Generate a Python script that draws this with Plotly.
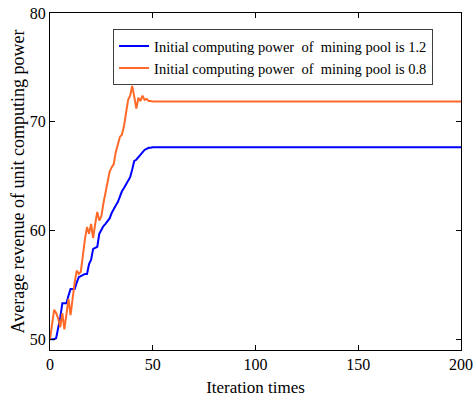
import plotly.graph_objects as go

# Iteration index (0..50 recorded each step, then the converged value held to 200)
iterations = list(range(0, 51)) + [200]

revenue_pool_12 = [
    50.0, 50.0, 50.0, 50.1, 51.0, 52.0, 53.3, 53.3, 53.3, 54.0,
    54.6, 54.6, 54.6, 55.2, 55.7, 55.8, 55.9, 56.0, 56.0, 56.9,
    57.3, 58.3, 58.4, 58.5, 59.7, 60.1, 60.4, 60.6, 60.9, 61.1,
    61.6, 62.0, 62.3, 62.6, 63.1, 63.6, 63.9, 64.2, 64.5, 64.9,
    65.6, 66.4, 66.5, 66.7, 66.9, 67.2, 67.4, 67.5, 67.6, 67.6,
    67.65, 67.65,
]

revenue_pool_08 = [
    50.0, 51.4, 52.7, 52.4, 51.9, 51.1, 52.4, 50.9, 52.6, 53.7,
    52.2, 54.0, 55.2, 56.3, 56.0, 56.2, 57.8, 59.2, 60.3, 59.7,
    60.6, 59.3, 60.6, 61.7, 60.9, 61.3, 62.5, 63.4, 64.5, 65.4,
    65.8, 66.1, 67.2, 67.8, 68.6, 68.8, 69.6, 70.8, 72.0, 72.4,
    73.3, 72.3, 71.2, 72.2, 71.9, 72.4, 72.0, 72.1, 71.9, 71.9,
    71.85, 71.85,
]

series_names = [
    "Initial computing power\u00a0 of\u00a0 mining pool is 1.2",
    "Initial computing power\u00a0 of\u00a0 mining pool is 0.8",
]

x_title = "Iteration times"
y_title = "Average revenue of unit computing power"

font_family = "Liberation Serif, Times New Roman, serif"

fig = go.Figure()
fig.add_trace(go.Scatter(x=iterations, y=revenue_pool_12, mode="lines",
                         name=series_names[0],
                         line=dict(color="#0000ff", width=2)))
fig.add_trace(go.Scatter(x=iterations, y=revenue_pool_08, mode="lines",
                         name=series_names[1],
                         line=dict(color="#ff6a28", width=2)))

axis_common = dict(
    showline=True, linecolor="black", linewidth=1, mirror="ticks",
    ticks="inside", ticklen=5, tickcolor="black", showgrid=False,
    zeroline=False, automargin=False,
    tickfont=dict(family=font_family, size=16, color="black"),
)

fig.update_layout(
    width=473, height=397,
    margin=dict(l=50, r=12, t=13, b=47),
    paper_bgcolor="white", plot_bgcolor="white",
    font=dict(family=font_family, color="black"),
    xaxis=dict(range=[0, 200], tickvals=[0, 50, 100, 150, 200],
               title=dict(text=x_title, font=dict(size=17)),
               **axis_common),
    yaxis=dict(range=[49, 80], tickvals=[50, 60, 70, 80], **axis_common),
    legend=dict(x=0.932, y=0.952, xanchor="right", yanchor="top",
                bgcolor="white", bordercolor="#404040", borderwidth=1,
                font=dict(family=font_family, size=14.5, color="black"),
                tracegroupgap=0, itemwidth=30),
    showlegend=True,
)

# Vertical axis title placed beside the tick labels
fig.add_annotation(text=y_title, textangle=-90, showarrow=False,
                   xref="paper", yref="paper", x=0, y=0.5,
                   xanchor="center", yanchor="middle", xshift=-33,
                   font=dict(family=font_family, size=18, color="black"))

fig.write_html("out.html")
